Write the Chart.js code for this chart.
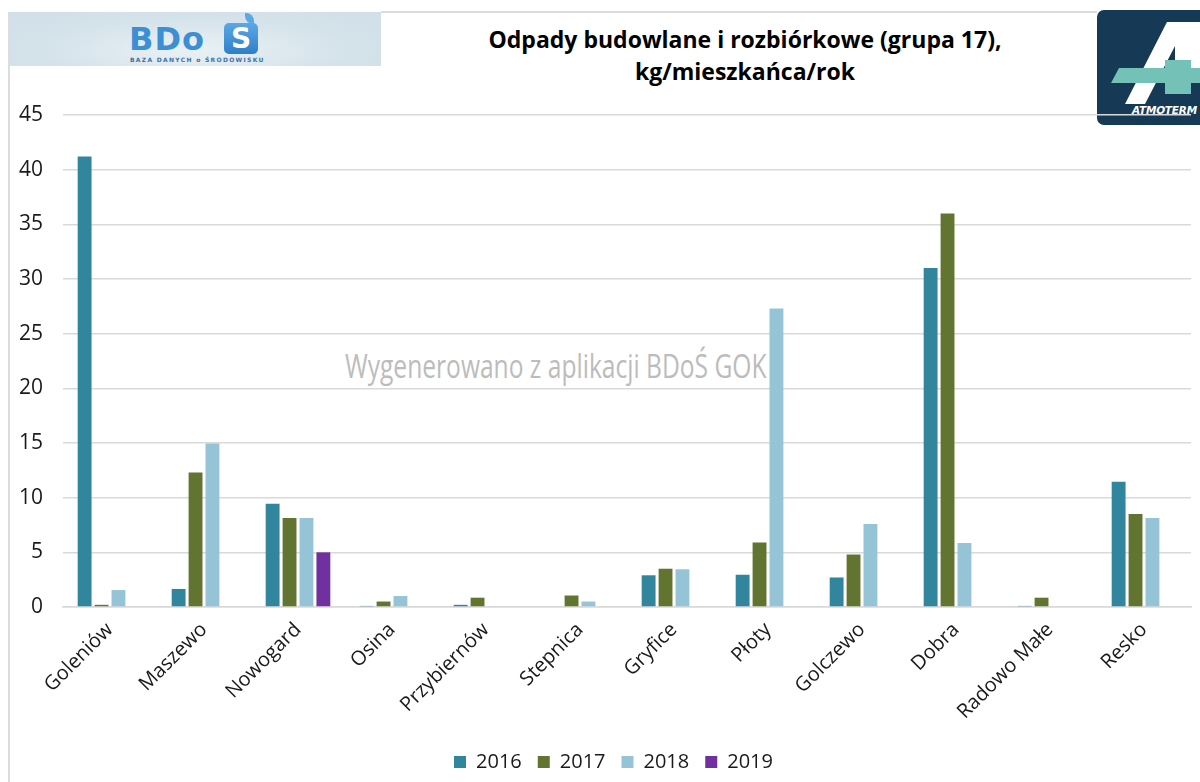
<!DOCTYPE html>
<html>
<head>
<meta charset="utf-8">
<script src="https://cdn.jsdelivr.net/npm/chart.js@4"></script>
<style>
    body { margin: 0; background: #fff; }
    #wrap { position: relative; width: 1200px; height: 782px; overflow: hidden; background: #fff; }
    #frameLeft { position: absolute; left: 8px; top: 12px; width: 2px; height: 770px; background: #dcdcdc; }
    #frameTop { position: absolute; left: 381px; top: 11px; width: 716px; height: 2px; background: #dcdcdc; }
    #bdos { position: absolute; left: 9px; top: 12px; width: 372px; height: 54px;
        background: radial-gradient(ellipse at 50% 70%, #eaf1f5 0%, #d4e2ea 60%, #d0dfe8 100%); }
    #bdosText { position: absolute; left: 120px; top: 8px; font: bold 32px "DejaVu Sans", sans-serif;
        color: #3d8fd3; letter-spacing: 1px; }
    #bdosS { position: absolute; left: 215px; top: 11px; width: 34px; height: 31px; border-radius: 5px;
        background: linear-gradient(#5aa8e6, #2f7fc8); color: #fff; font: bold 28px "DejaVu Sans", sans-serif;
        text-align: center; line-height: 32px; }
    #bdosLeaf { position: absolute; left: 236px; top: 1px; width: 9px; height: 11px; border-radius: 0 8px 0 8px;
        background: #5aa8e6; }
    #bdosSub { position: absolute; left: 121px; top: 44px; font: bold 6px "DejaVu Sans", sans-serif;
        color: #3a72a8; letter-spacing: 1.3px; }
    #title { position: absolute; left: 445px; top: 23px; width: 600px; text-align: center;
        font: bold 23px "Open Sans", sans-serif; line-height: 32px; color: #000; }
    #logoA { position: absolute; left: 1097px; top: 10px; }
    #watermark { position: absolute; left: 345px; top: 343px; font: 33px "Open Sans", sans-serif; color: #bcbcbc;
        transform: scaleX(0.745); transform-origin: left top; white-space: nowrap; }
    #chartCanvas { position: absolute; left: 0; top: 0; }
</style>
</head>
<body>
<div id="wrap">
    <div id="frameLeft"></div>
    <div id="frameTop"></div>
    <div id="bdos">
        <div id="bdosText">BDo</div>
        <div id="bdosLeaf"></div>
        <div id="bdosS">S</div>
        <div id="bdosSub">BAZA DANYCH o ŚRODOWISKU</div>
    </div>
    <div id="title">Odpady budowlane i rozbiórkowe (grupa 17),<br>kg/mieszkańca/rok</div>
    <svg id="logoA" width="103" height="115" viewBox="0 0 103 115">
        <rect x="0" y="0" width="115" height="115" rx="7" fill="#163a56"/>
        <polygon points="28,94 70,12 110,12 110,60 78,60 78,36 48,94" fill="#ffffff"/>
        <polygon points="68,50 94,50 94,84 68,84" fill="#73c1b7"/>
        <polygon points="22,58 110,58 110,73 14,73" fill="#73c1b7"/>
        <text x="35" y="104" font-family="DejaVu Sans" font-style="italic" font-weight="bold" font-size="10.5" fill="#ffffff" letter-spacing="-0.2">ATMOTERM</text>
    </svg>
    <div id="watermark">Wygenerowano z aplikacji BDoŚ GOK</div>
    <canvas id="chartCanvas" width="1200" height="782"></canvas>
</div>
<script>
// gminy
let categories = ['Goleniów', 'Maszewo', 'Nowogard', 'Osina', 'Przybiernów', 'Stepnica',
    'Gryfice', 'Płoty', 'Golczewo', 'Dobra', 'Radowo Małe', 'Resko'];

// kg/mieszkańca/rok
let values2016 = [41.2, 1.65, 9.45, 0.1, 0.2, null, 2.9, 2.95, 2.7, 31.0, 0.1, 11.45];
let values2017 = [0.2, 12.3, 8.15, 0.5, 0.85, 1.05, 3.5, 5.9, 4.8, 36.0, 0.85, 8.5];
let values2018 = [1.55, 14.95, 8.15, 1.0, null, 0.5, 3.45, 27.3, 7.6, 5.85, null, 8.15];
let values2019 = [null, null, 5.0, null, null, null, null, null, null, null, null, null];

let seriesLabels = ['2016', '2017', '2018', '2019'];
let seriesColors = ['#31869d', '#617430', '#94c4d6', '#7030a0'];

let yTicks = [0, 5, 10, 15, 20, 25, 30, 35, 40, 45];

let makeDataset = function(i, values) {
    return {
        label: seriesLabels[i],
        data: values,
        backgroundColor: seriesColors[i],
        borderWidth: 0,
        categoryPercentage: 0.72,
        barPercentage: 0.82
    };
}

// the original legend sits a little right of the page centre
let legendShiftPlugin = {
    id: 'legendShift',
    afterLayout: function(chart) {
        if (chart.legend) {
            chart.legend.left += 13;
            chart.legend.right += 13;
        }
    }
}

let main = function() {
    const ctx = document.getElementById('chartCanvas');

    new Chart(ctx, {
        type: 'bar',
        data: {
            labels: categories,
            datasets: [
                makeDataset(0, values2016),
                makeDataset(1, values2017),
                makeDataset(2, values2018),
                makeDataset(3, values2019)
            ]
        },
        options: {
            responsive: false,
            animation: false,
            devicePixelRatio: 1,
            layout: {
                padding: { top: 115, left: 10, right: 9, bottom: 0 }
            },
            scales: {
                x: {
                    grid: { display: false, drawTicks: false },
                    border: { display: true, color: '#d9d9d9', width: 1.5 },
                    ticks: {
                        color: '#1a1a1a',
                        font: { family: 'Open Sans', size: 20 },
                        maxRotation: 45,
                        minRotation: 45,
                        padding: 11,
                        autoSkip: false
                    },
                    afterFit: function(scale) { scale.height = 129; }
                },
                y: {
                    min: 0,
                    max: 45,
                    afterBuildTicks: function(scale) {
                        scale.ticks = yTicks.map(v => ({ value: v }));
                    },
                    grid: { color: '#d9d9d9', lineWidth: 1.5, drawTicks: false },
                    border: { display: false },
                    ticks: {
                        color: '#1a1a1a',
                        font: { family: 'Open Sans', size: 21 },
                        padding: 20
                    },
                    afterFit: function(scale) { scale.width = 53; }
                }
            },
            plugins: {
                legend: {
                    position: 'bottom',
                    labels: {
                        color: '#1a1a1a',
                        font: { family: 'Open Sans', size: 20 },
                        boxWidth: 12,
                        boxHeight: 12,
                        padding: 16
                    }
                },
                tooltip: { enabled: false }
            }
        },
        plugins: [legendShiftPlugin]
    });
}

window.onload = main;
</script>
</body>
</html>
